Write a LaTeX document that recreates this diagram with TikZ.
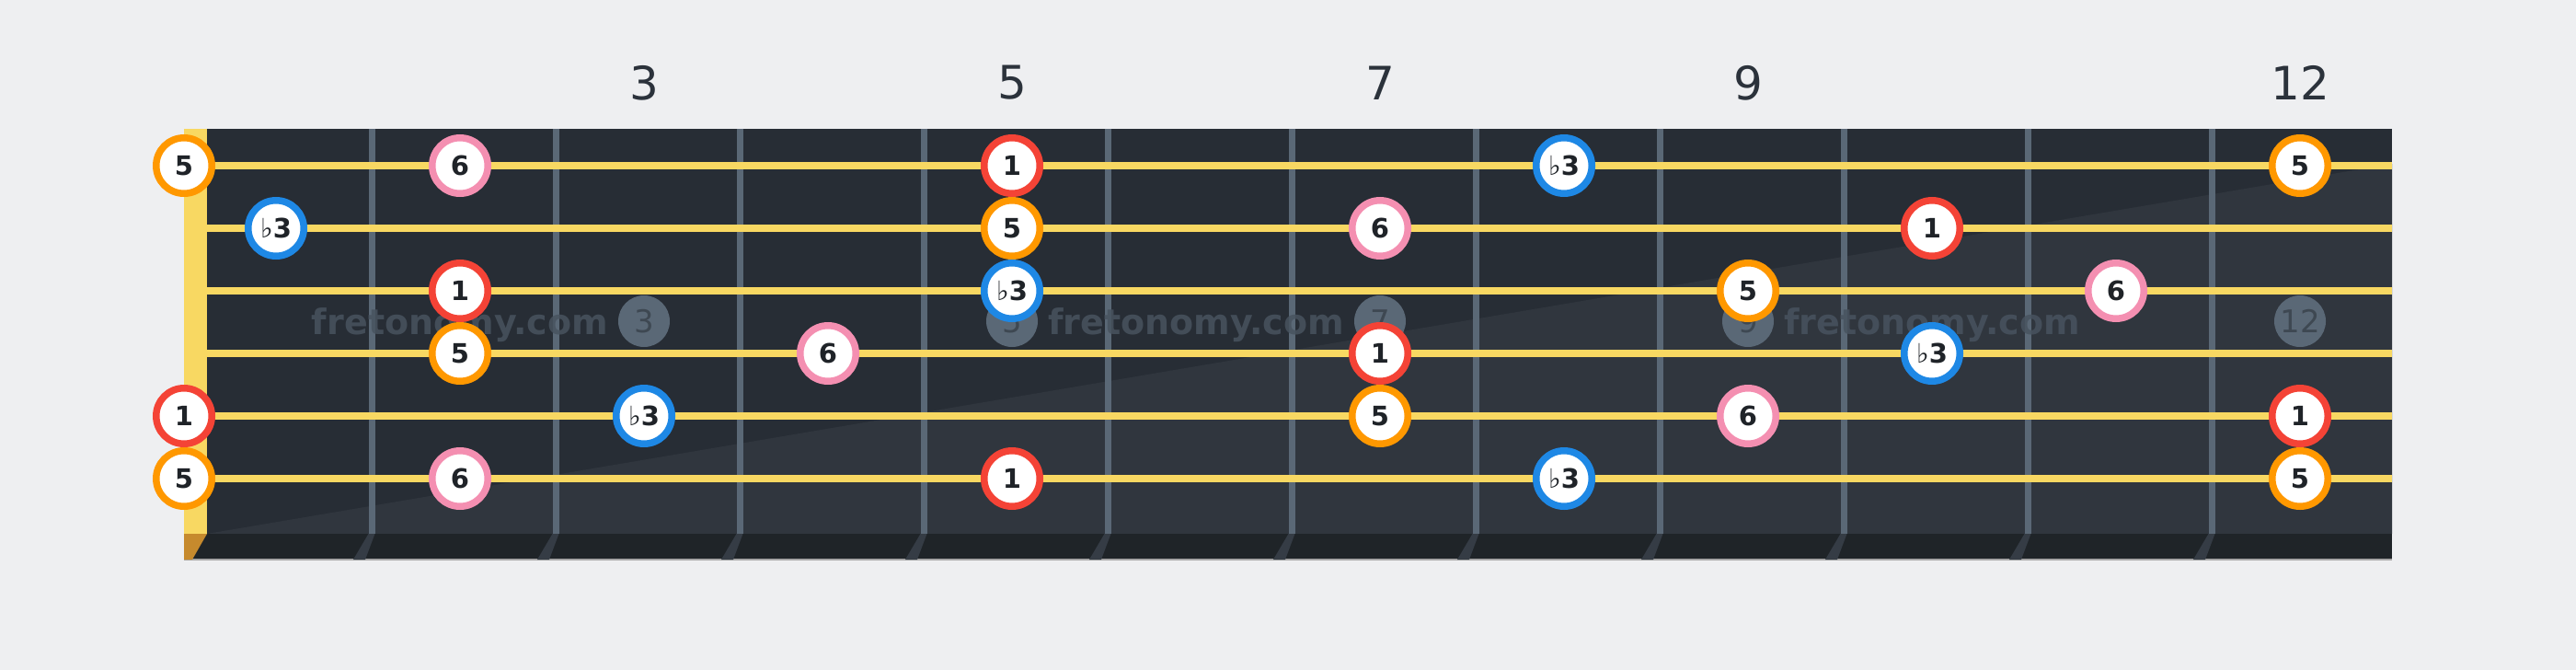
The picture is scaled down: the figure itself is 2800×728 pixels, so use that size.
\documentclass[tikz,border=0pt]{standalone}
\usepackage{fontspec}
\setmainfont{DejaVu Sans}
\definecolor{bg}{HTML}{EEEFF1}
\definecolor{board}{HTML}{272D35}
\definecolor{boardlt}{HTML}{30363E}
\definecolor{strip}{HTML}{1F2428}
\definecolor{fretc}{HTML}{5A6876}
\definecolor{shadowc}{HTML}{353C45}
\definecolor{nutc}{HTML}{F8D862}
\definecolor{nutbot}{HTML}{C68A2D}
\definecolor{strc}{HTML}{F8D862}
\definecolor{txt}{HTML}{1F2328}
\definecolor{numc}{HTML}{2B323B}
\definecolor{wmark}{HTML}{48535F}
\definecolor{inlayc}{HTML}{5A6876}
\definecolor{inlaytxt}{HTML}{3E4852}
\definecolor{cred}{HTML}{F44336}
\definecolor{corange}{HTML}{FF9800}
\definecolor{cblue}{HTML}{1E88E5}
\definecolor{cpink}{HTML}{F48FB1}
\newcommand{\fl}{{\mdseries ♭}}
\begin{document}
\begin{tikzpicture}[x=1pt,y=-1pt,
  note/.style={circle, draw=#1, line width=7.5pt, fill=white, minimum size=60.5pt,
    inner sep=0pt, text=txt, font=\fontsize{29}{29}\selectfont\bfseries},
  d1/.style={note=cred},
  d3/.style={note=cblue},
  d5/.style={note=corange},
  d6/.style={note=cpink},
  fretnum/.style={text=numc, font=\fontsize{50}{50}\selectfont},
  inlay/.style={circle, fill=inlayc, minimum size=56pt, inner sep=0pt, text=inlaytxt,
    font=\fontsize{34}{34}\selectfont},
  wm/.style={text=wmark, opacity=0.85, anchor=base, font=\fontsize{38}{38}\selectfont\bfseries},
  fretwire/.style={draw=fretc, line width=7pt},
  stringline/.style={draw=strc, line width=8pt}]
% background
\fill[bg] (0,0) rectangle (2800,728);
\useasboundingbox (0,0) rectangle (2800,728);
% fretboard
\fill[board] (225,140) rectangle (2600,580);
\fill[boardlt] (225,580) -- (2600,178) -- (2600,580) -- cycle;
% bottom strip
\fill[strip] (200,580) rectangle (2600,608);
\draw[color=gray!70, line width=2pt] (200,608) -- (2600,608);
% nut
\fill[nutc] (200,140) rectangle (225,580);
\fill[nutbot] (200,580) -- (225,580) -- (209,608) -- (200,608) -- cycle;
% frets and their shadows
\foreach \k in {1,...,11} {
  \fill[shadowc] ({204+200*\k-3.5},580) -- ({204+200*\k+3.5},580) -- ({204+200*\k-7},608) -- ({204+200*\k-20},608) -- cycle;
  \draw[fretwire] ({204+200*\k},140) -- ({204+200*\k},580);
}
% inlays
\foreach \f in {3,5,7,9,12} {
  \node[inlay] (inlay\f) at ({100+200*\f},349) {\f};
}
% watermark
\node[wm] (wm1) at (500,363) {fretonomy.com};
\node[wm] (wm2) at (1300,363) {fretonomy.com};
\node[wm] (wm3) at (2100,363) {fretonomy.com};
% strings
\foreach \s in {1,...,6} {
  \draw[stringline] (225,{112+68*\s}) -- (2600,{112+68*\s});
}
% fret numbers
\foreach \f in {3,5,7,9,12} {
  \node[fretnum] (fn\f) at ({100+200*\f},90) {\f};
}
% notes
\foreach \s/\f/\d/\t in {
  1/0/d5/5, 1/2/d6/6, 1/5/d1/1, 1/8/d3/{\fl3}, 1/12/d5/5,
  2/1/d3/{\fl3}, 2/5/d5/5, 2/7/d6/6, 2/10/d1/1,
  3/2/d1/1, 3/5/d3/{\fl3}, 3/9/d5/5, 3/11/d6/6,
  4/2/d5/5, 4/4/d6/6, 4/7/d1/1, 4/10/d3/{\fl3},
  5/0/d1/1, 5/3/d3/{\fl3}, 5/7/d5/5, 5/9/d6/6, 5/12/d1/1,
  6/0/d5/5, 6/2/d6/6, 6/5/d1/1, 6/8/d3/{\fl3}, 6/12/d5/5} {
  \node[\d] (n\s-\f) at ({max(200,100+200*\f)},{112+68*\s}) {\t};
}
\end{tikzpicture}
\end{document}
